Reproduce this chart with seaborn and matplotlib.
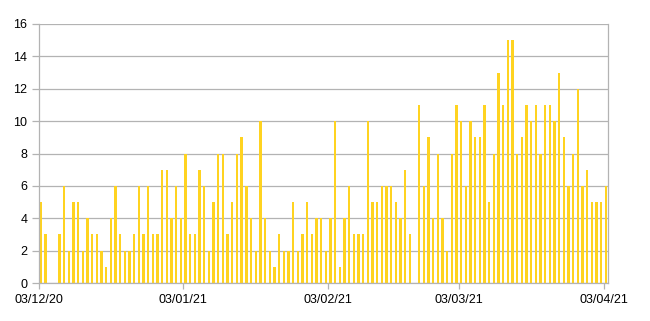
import matplotlib
matplotlib.use("Agg")
import matplotlib.pyplot as plt
import seaborn as sns
import pandas as pd
import numpy as np

# ---- data ----
start_date = "2020-12-03"
values = [
    5, 3, 0, 0, 3, 6, 2, 5, 5, 2, 4, 3, 3, 2, 1, 4, 6, 3, 2, 2,
    3, 6, 3, 6, 3, 3, 7, 7, 4, 6, 4, 8, 3, 3, 7, 6, 2, 5, 8, 8,
    3, 5, 8, 9, 6, 4, 2, 10, 4, 2, 1, 3, 2, 2, 5, 2, 3, 5, 3, 4,
    4, 2, 4, 10, 1, 4, 6, 3, 3, 3, 10, 5, 5, 6, 6, 6, 5, 4, 7, 3,
    0, 11, 6, 9, 4, 8, 4, 2, 8, 11, 10, 6, 10, 9, 9, 11, 5, 8, 13, 11,
    15, 15, 8, 9, 11, 10, 11, 8, 11, 11, 10, 13, 9, 6, 8, 12, 6, 7, 5, 5, 5, 6,
]
tick_labels = ["03/12/20", "03/01/21", "03/02/21", "03/03/21", "03/04/21"]
tick_dates = ["2020-12-03", "2021-01-03", "2021-02-03", "2021-03-03", "2021-04-03"]

dates = pd.date_range(start_date, periods=len(values), freq="D")
t0 = pd.Timestamp(start_date)
df = pd.DataFrame({
    "day": [(d - t0).days + 0.5 for d in dates],
    "count": values,
})
tick_pos = [(pd.Timestamp(d) - t0).days for d in tick_dates]

sns.set_theme(style="white")
plt.rcParams["font.family"] = ["Liberation Sans", "DejaVu Sans"]

fig = plt.figure(figsize=(6.5, 3.21), dpi=100)
ax = fig.add_axes([38.5 / 650, 1 - 283 / 321, (608.3 - 38.5) / 650, (283 - 24) / 321])

sns.barplot(data=df, x="day", y="count", native_scale=True, ax=ax,
            color="#ffd320", saturation=1, width=0.5, edgecolor="#ffd320", linewidth=0)

ax.set_xlim(0, len(values))
ax.set_ylim(0, 16)
ax.set_yticks(np.arange(0, 17, 2))
ax.set_xticks(tick_pos)
ax.set_xticklabels(tick_labels)
ax.set_xlabel("")
ax.set_ylabel("")

ax.yaxis.grid(True, color="#b3b3b3", linewidth=0.9)
ax.set_axisbelow(True)
for side in ["left", "bottom", "right"]:
    ax.spines[side].set_visible(True)
    ax.spines[side].set_color("#b3b3b3")
    ax.spines[side].set_linewidth(0.9)
ax.spines["top"].set_visible(False)

ax.tick_params(axis="y", which="major", length=5, width=0.9, color="#b3b3b3",
               labelsize=9, pad=3, labelcolor="black", left=True)
ax.tick_params(axis="x", which="major", length=4, width=0.9, color="#b3b3b3",
               labelsize=9, pad=4, labelcolor="black", bottom=True)

fig.savefig("out.png", dpi=100)
